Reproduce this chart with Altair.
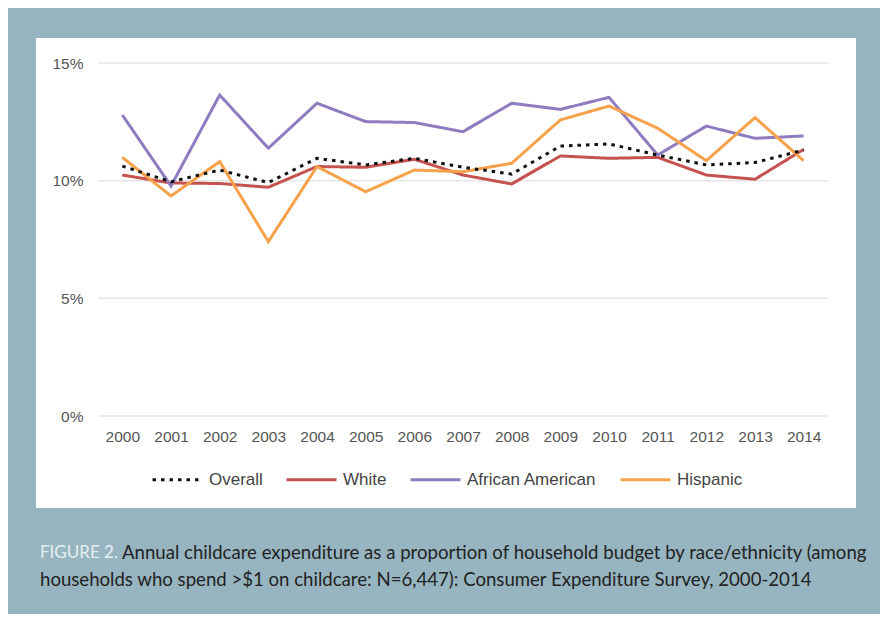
import altair as alt
import pandas as pd

years = [str(y) for y in range(2000, 2015)]
overall = [10.62, 9.95, 10.45, 9.92, 10.95, 10.67, 10.95, 10.57, 10.28, 11.47, 11.56, 11.09, 10.67, 10.77, 11.30]
white = [10.24, 9.90, 9.88, 9.72, 10.60, 10.57, 10.91, 10.24, 9.86, 11.05, 10.95, 10.99, 10.24, 10.06, 11.33]
african_american = [12.79, 9.77, 13.64, 11.38, 13.29, 12.51, 12.47, 12.08, 13.29, 13.03, 13.54, 11.09, 12.32, 11.80, 11.90]
hispanic = [10.99, 9.35, 10.81, 7.41, 10.60, 9.53, 10.45, 10.38, 10.74, 12.58, 13.17, 12.23, 10.85, 12.68, 10.85]

series_names = ["Overall", "White", "African American", "Hispanic"]
series_colors = ["#111111", "#c5524f", "#8f7cc0", "#f7a24b"]
series_dash = [[3.5, 5], [1, 0], [1, 0], [1, 0]]

y_ticks = [0, 0.05, 0.10, 0.15]

caption_label = "FIGURE 2."
caption_line1 = "Annual childcare expenditure as a proportion of household budget by race/ethnicity (among"
caption_line2 = "households who spend >$1 on childcare: N=6,447): Consumer Expenditure Survey, 2000-2014"

rows = []
for name, vals in [("White", white), ("African American", african_american),
                   ("Hispanic", hispanic), ("Overall", overall)]:
    for yr, v in zip(years, vals):
        rows.append({"Year": yr, "Series": name, "Value": v / 100.0})
df = pd.DataFrame(rows)

one = pd.DataFrame({"k": [0]})

y_axis = alt.Axis(values=y_ticks, format=".0%", grid=False, domain=False, ticks=False,
                  labelPadding=15, labelFontSize=15.5, labelColor="#555555",
                  labelFont="Liberation Sans", zindex=1, title=None)
y_scale = alt.Scale(domain=[0, 0.15])

legend_spec = dict(title=None, orient="none", legendX=53, legendY=390,
                   direction="horizontal", symbolType="stroke",
                   symbolSize=2500, symbolStrokeWidth=3,
                   labelFontSize=17, labelColor="#444444",
                   labelFont="Liberation Sans", labelOffset=5,
                   columnPadding=17, padding=0, zindex=1)

panel = alt.Chart(one).mark_rect(color="white").encode(
    x=alt.value(-62), x2=alt.value(758), y=alt.value(-25), y2=alt.value(445)
)

grid = alt.Chart(pd.DataFrame({"t": y_ticks})).mark_rule(color="#e6e6e6", strokeWidth=1.5).encode(
    y=alt.Y("t:Q", scale=y_scale, axis=y_axis, title=None)
)

lines = alt.Chart(df).mark_line(strokeWidth=3).encode(
    x=alt.X("Year:O", sort=years, title=None,
            axis=alt.Axis(labelAngle=0, domain=False, ticks=False, labelPadding=13,
                          labelFontSize=15.5, labelColor="#555555", labelFont="Liberation Sans",
                          zindex=1)),
    y=alt.Y("Value:Q", scale=y_scale, title=None, axis=y_axis),
    color=alt.Color("Series:N", scale=alt.Scale(domain=series_names, range=series_colors),
                    legend=alt.Legend(**legend_spec)),
    strokeDash=alt.StrokeDash("Series:N", scale=alt.Scale(domain=series_names, range=series_dash),
                              legend=alt.Legend(**legend_spec)),
)

cap_fig = alt.Chart(one).mark_text(align="left", baseline="middle", font="Lato", fontSize=17,
                                   color="#e6eef1", text=caption_label).encode(
    x=alt.value(-58), y=alt.value(490))
cap_1 = alt.Chart(one).mark_text(align="left", baseline="middle", font="Lato", fontSize=18.6,
                                 color="#222222", text=caption_line1).encode(
    x=alt.value(24), y=alt.value(490))
cap_2 = alt.Chart(one).mark_text(align="left", baseline="middle", font="Lato", fontSize=18.6,
                                 color="#222222", text=caption_line2).encode(
    x=alt.value(-58), y=alt.value(517))

chart = alt.layer(panel, grid, lines, cap_fig, cap_1, cap_2).properties(
    width=730, height=353,
    padding={"left": 90, "top": 55, "right": 52, "bottom": 198},
    autosize=alt.AutoSizeParams(type="none"),
    background="#97b5c0",
).configure_view(stroke=None)

chart.save("out.html", embed_options={"renderer": "svg", "actions": False})
